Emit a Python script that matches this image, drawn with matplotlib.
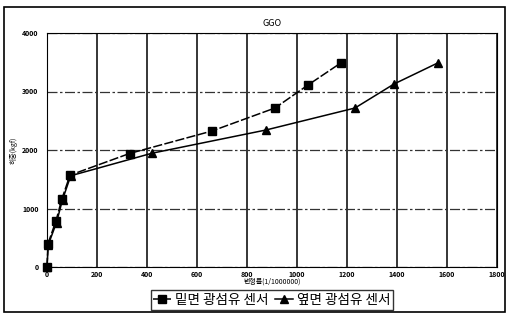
import matplotlib
matplotlib.use("Agg")
import matplotlib.pyplot as plt
from matplotlib.patches import Rectangle

plt.rcParams["font.family"] = ["Noto Sans CJK KR", "DejaVu Sans"]

# bottom-surface sensor (squares)
strain_bottom = [0, 4, 36, 60, 92, 330, 660, 912, 1044, 1176]
load_bottom = [0, 400, 790, 1170, 1570, 1940, 2325, 2718, 3111, 3490]
# side-surface sensor (triangles)
strain_side = [0, 5, 38, 62, 95, 420, 876, 1232, 1388, 1564]
load_side = [0, 380, 760, 1150, 1560, 1945, 2342, 2718, 3128, 3490]

xticks = list(range(0, 1801, 200))
yticks = list(range(0, 4001, 1000))

W, H = 507, 313
fig = plt.figure(figsize=(W / 100, H / 100), dpi=100)
ax = fig.add_axes([47 / W, (H - 267) / H, 450 / W, 234 / H])

ax.plot(strain_bottom, load_bottom, color="black", lw=1.1, ls=(0, (6, 1.5)),
        marker="s", ms=6, label="밑면 광섬유 센서", clip_on=False, zorder=3)
ax.plot(strain_side, load_side, color="black", lw=1.1,
        marker="^", ms=6, label="옆면 광섬유 센서", clip_on=False, zorder=3)

ax.set_xlim(0, 1800)
ax.set_ylim(0, 4000)
ax.set_xticks(xticks)
ax.set_yticks(yticks)
ax.tick_params(axis="x", labelsize=5, length=0, pad=3)
ax.tick_params(axis="y", labelsize=5, length=0, pad=6)
for lab in ax.get_xticklabels() + ax.get_yticklabels():
    lab.set_fontweight("bold")
ax.xaxis.grid(True, color="black", lw=1.1)
ax.yaxis.grid(True, color="#333333", lw=0.9, ls=(0, (8, 2, 2, 2)))
for s in ax.spines.values():
    s.set_linewidth(0.8)

ax.set_title("GGO", fontsize=6.5, pad=5)
fig.text(272 / W, 1 - 282 / H, "변형률(1/1000000)", fontsize=5, ha="center", va="center")
fig.text(14 / W, 1 - 150 / H, "하중(kgf)", fontsize=5, rotation=90, ha="center", va="center")

fig.legend(loc="center", bbox_to_anchor=(272 / W, 1 - 300 / H), ncol=2,
           fontsize=9.8, frameon=True, fancybox=False, edgecolor="black",
           handlelength=1.3, handletextpad=0.3, columnspacing=0.5,
           borderpad=0.2, markerscale=0.9)

fig.patches.append(Rectangle((4 / W, 1 - 312 / H), 501 / W, 305 / H,
                             transform=fig.transFigure, fill=False,
                             edgecolor="black", lw=1.2))

fig.savefig("out.png", dpi=100)
